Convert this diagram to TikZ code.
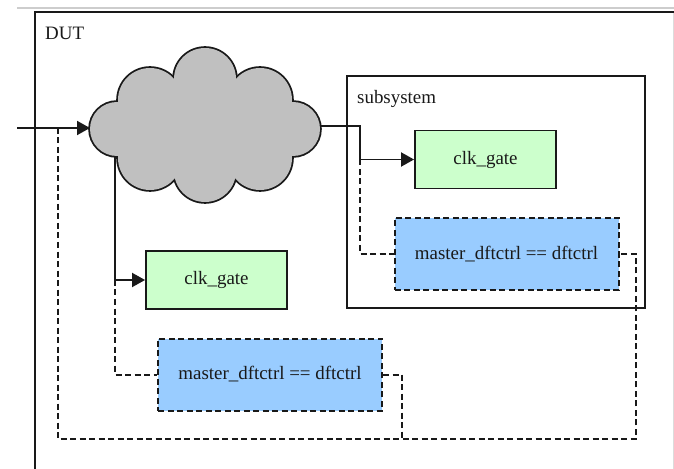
\documentclass[tikz,border=0pt]{standalone}
\usepackage{fontspec}
\setmainfont{Liberation Serif}
\newfontfamily\diagfont{Liberation Serif}
\usetikzlibrary{arrows.meta,calc}
\definecolor{cloudgray}{RGB}{192,192,192}
\definecolor{gatefill}{RGB}{204,255,204}
\definecolor{dftfill}{RGB}{153,204,255}
\definecolor{edgegray}{RGB}{205,205,205}
\definecolor{inkc}{RGB}{25,25,25}
\begin{document}
\begin{tikzpicture}[x=1bp,y=-1bp,
  wire/.style={line width=1.9bp,inkc},
  dwire/.style={line width=2bp,inkc,dash pattern=on 6bp off 3.5bp},
  arr/.style={-{Triangle[length=13bp,width=14bp]}},
  lbl/.style={font=\diagfont\fontsize{19}{21}\selectfont,inner sep=0pt,text=inkc},
  gatebox/.style={draw=inkc,line width=1.9bp,fill=gatefill,minimum width=141bp,minimum height=58bp,inner sep=0pt,font=\diagfont\fontsize{19}{21}\selectfont,text=inkc},
  dftbox/.style={draw=inkc,line width=2bp,dash pattern=on 6bp off 3.5bp,fill=dftfill,minimum width=224bp,minimum height=72bp,inner sep=0pt,font=\diagfont\fontsize{19}{21}\selectfont,text=inkc},
  frame/.style={draw=inkc,line width=1.9bp}
]
\useasboundingbox (0,0) rectangle (674,469);
\fill[white] (0,0) rectangle (674,469);
% page edges
\draw[edgegray,line width=2bp] (17,8) -- (674,8);
\draw[edgegray!70,line width=1bp] (673,12) -- (673,469);
% DUT frame
\draw[line width=1.9bp,inkc] (35,469) -- (35,12) -- (674,12);
\node[lbl,anchor=base west] (dut) at (45,40) {DUT};
% subsystem frame
\draw[frame] (347,76) rectangle (645,308);
\node[lbl,anchor=base west] (subsys) at (357,104) {subsystem};
% cloud
\begin{scope}
  \foreach \cx/\cy/\r in {117/129/27,293/129/27,205/79/31,205/171/31,150/100/32,260/100/32,150/158/32,260/158/32}{
    \draw[line width=3.6bp,inkc] (\cx,\cy) circle[radius=\r];
  }
  \foreach \cx/\cy/\r in {117/129/27,293/129/27,205/79/31,205/171/31,150/100/32,260/100/32,150/158/32,260/158/32}{
    \fill[cloudgray] (\cx,\cy) circle[radius=\r];
  }
  \fill[cloudgray] (205,128) ellipse[x radius=88,y radius=52];
\end{scope}
\node[minimum width=230bp,minimum height=154bp,inner sep=0pt] (cloud) at (205,125) {};
% boxes
\node[gatebox] (gate1) at (485.5,159.5) {clk\_gate};
\node[gatebox] (gate2) at (216.5,280) {clk\_gate};
\node[dftbox] (dft1) at (506.5,254) {master\_dftctrl == dftctrl};
\node[dftbox] (dft2) at (270,374.5) {master\_dftctrl == dftctrl};
% coordinates
\coordinate (inp) at (17,128);
\coordinate (cin) at (90,128);
\coordinate (tapL) at (58,128);
\coordinate (bot) at (58,439);
\coordinate (cout) at (320,126);
\coordinate (cbot) at (115,156);
\coordinate (sp) at (360,159.5);
\coordinate (r1) at (636,254);
\coordinate (r2) at (402,374.5);
% connectors
\draw[wire,arr] (inp) -- (cin);
\draw[dwire] (tapL) -- (bot) -| (r1) -- (dft1.east);
\draw[dwire] (dft2.east) -- (r2) -- (r2 |- bot);
\draw[wire] (cout) -| (sp);
\draw[wire,arr] (sp) -- (gate1.west);
\draw[dwire] (sp) |- (dft1.west);
\draw[wire,arr] (cbot) |- (gate2.west);
\draw[dwire] (cbot |- gate2.west) |- (dft2.west);
\end{tikzpicture}
\end{document}
